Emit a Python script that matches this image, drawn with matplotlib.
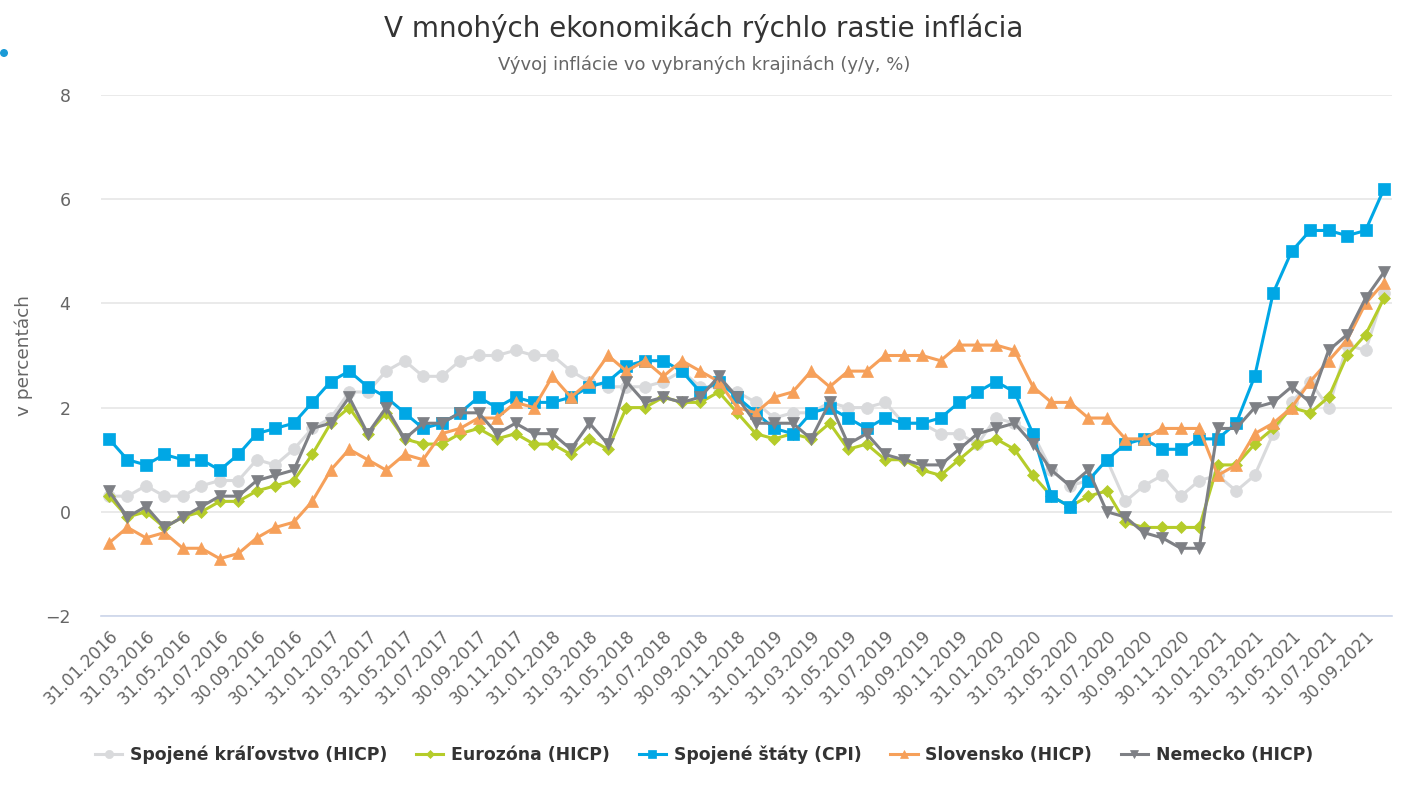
import matplotlib
matplotlib.use("Agg")
import matplotlib.pyplot as plt
import numpy as np
import pandas as pd
from matplotlib.patches import Ellipse

plt.rcParams['font.family'] = ['DejaVu Sans']

# ---- data ----
dates = pd.date_range('2016-01-31', periods=70, freq='ME')
date_labels = [d.strftime('%d.%m.%Y') for d in dates]

uk = [0.3, 0.3, 0.5, 0.3, 0.3, 0.5, 0.6, 0.6, 1.0, 0.9, 1.2, 1.6,
      1.8, 2.3, 2.3, 2.7, 2.9, 2.6, 2.6, 2.9, 3.0, 3.0, 3.1, 3.0,
      3.0, 2.7, 2.5, 2.4, 2.4, 2.4, 2.5, 2.7, 2.4, 2.4, 2.3, 2.1,
      1.8, 1.9, 1.9, 2.1, 2.0, 2.0, 2.1, 1.7, 1.7, 1.5, 1.5, 1.3,
      1.8, 1.7, 1.5, 0.8, 0.5, 0.6, 1.0, 0.2, 0.5, 0.7, 0.3, 0.6,
      0.7, 0.4, 0.7, 1.5, 2.1, 2.5, 2.0, 3.2, 3.1, 4.2]

eurozone = [0.3, -0.1, 0.0, -0.3, -0.1, 0.0, 0.2, 0.2, 0.4, 0.5, 0.6, 1.1,
            1.7, 2.0, 1.5, 1.9, 1.4, 1.3, 1.3, 1.5, 1.6, 1.4, 1.5, 1.3,
            1.3, 1.1, 1.4, 1.2, 2.0, 2.0, 2.2, 2.1, 2.1, 2.3, 1.9, 1.5,
            1.4, 1.5, 1.4, 1.7, 1.2, 1.3, 1.0, 1.0, 0.8, 0.7, 1.0, 1.3,
            1.4, 1.2, 0.7, 0.3, 0.1, 0.3, 0.4, -0.2, -0.3, -0.3, -0.3, -0.3,
            0.9, 0.9, 1.3, 1.6, 2.0, 1.9, 2.2, 3.0, 3.4, 4.1]

us = [1.4, 1.0, 0.9, 1.1, 1.0, 1.0, 0.8, 1.1, 1.5, 1.6, 1.7, 2.1,
      2.5, 2.7, 2.4, 2.2, 1.9, 1.6, 1.7, 1.9, 2.2, 2.0, 2.2, 2.1,
      2.1, 2.2, 2.4, 2.5, 2.8, 2.9, 2.9, 2.7, 2.3, 2.5, 2.2, 1.9,
      1.6, 1.5, 1.9, 2.0, 1.8, 1.6, 1.8, 1.7, 1.7, 1.8, 2.1, 2.3,
      2.5, 2.3, 1.5, 0.3, 0.1, 0.6, 1.0, 1.3, 1.4, 1.2, 1.2, 1.4,
      1.4, 1.7, 2.6, 4.2, 5.0, 5.4, 5.4, 5.3, 5.4, 6.2]

slovakia = [-0.6, -0.3, -0.5, -0.4, -0.7, -0.7, -0.9, -0.8, -0.5, -0.3, -0.2, 0.2,
            0.8, 1.2, 1.0, 0.8, 1.1, 1.0, 1.5, 1.6, 1.8, 1.8, 2.1, 2.0,
            2.6, 2.2, 2.5, 3.0, 2.7, 2.9, 2.6, 2.9, 2.7, 2.5, 2.0, 1.9,
            2.2, 2.3, 2.7, 2.4, 2.7, 2.7, 3.0, 3.0, 3.0, 2.9, 3.2, 3.2,
            3.2, 3.1, 2.4, 2.1, 2.1, 1.8, 1.8, 1.4, 1.4, 1.6, 1.6, 1.6,
            0.7, 0.9, 1.5, 1.7, 2.0, 2.5, 2.9, 3.3, 4.0, 4.4]

germany = [0.4, -0.1, 0.1, -0.3, -0.1, 0.1, 0.3, 0.3, 0.6, 0.7, 0.8, 1.6,
           1.7, 2.2, 1.5, 2.0, 1.4, 1.7, 1.7, 1.9, 1.9, 1.5, 1.7, 1.5,
           1.5, 1.2, 1.7, 1.3, 2.5, 2.1, 2.2, 2.1, 2.2, 2.6, 2.2, 1.7,
           1.7, 1.7, 1.4, 2.1, 1.3, 1.5, 1.1, 1.0, 0.9, 0.9, 1.2, 1.5,
           1.6, 1.7, 1.3, 0.8, 0.5, 0.8, 0.0, -0.1, -0.4, -0.5, -0.7, -0.7,
           1.6, 1.6, 2.0, 2.1, 2.4, 2.1, 3.1, 3.4, 4.1, 4.6]

series_names = ['Spojené kráľovstvo (HICP)', 'Eurozóna (HICP)', 'Spojené štáty (CPI)',
                'Slovensko (HICP)', 'Nemecko (HICP)']
series_values = [uk, eurozone, us, slovakia, germany]
series_colors = ['#d9dadc', '#b5cc2a', '#00a7e5', '#f6a05a', '#7e8085']
series_markers = ['o', 'D', 's', '^', 'v']
series_msize = [8.5, 6.5, 8.5, 9.0, 9.0]

yticks = [-2, 0, 2, 4, 6, 8]

# ---- figure ----
fig = plt.figure(figsize=(14.08, 8.0), dpi=100)
W, H = 1408, 800
ax = fig.add_axes([101 / W, (H - 616) / H, (1392 - 101) / W, (616 - 95) / H])

x = np.arange(len(date_labels))
for name, vals, col, mk, ms in zip(series_names, series_values, series_colors,
                                   series_markers, series_msize):
    ax.plot(x, vals, color=col, lw=2.2, marker=mk, markersize=ms,
            markerfacecolor=col, markeredgecolor=col, markeredgewidth=0.5,
            label=name, solid_joinstyle='round', clip_on=False)

ax.set_ylim(-2, 8)
ax.set_xlim(-0.43, len(x) - 1 + 0.43)
ax.set_yticks(yticks)
ax.set_yticklabels([('−' + str(abs(t))) if t < 0 else str(t) for t in yticks])
ax.set_xticks(x[::2])
ax.set_xticklabels(date_labels[::2], rotation=45, ha='right', va='top',
                   rotation_mode='anchor')
for lab in ax.get_xticklabels():
    lab.set_fontsize(12.2)
    lab.set_color('#666666')
for lab in ax.get_yticklabels():
    lab.set_fontsize(12.5)
    lab.set_color('#666666')
ax.tick_params(axis='x', length=0, pad=8)
ax.tick_params(axis='y', length=0, pad=22)

ax.grid(axis='y', color='#e6e6e6', lw=1.2)
ax.set_axisbelow(True)
for s in ['top', 'right', 'left']:
    ax.spines[s].set_visible(False)
ax.spines['bottom'].set_color('#ccd6eb')
ax.spines['bottom'].set_linewidth(1.2)

ax.set_ylabel('v percentách', fontsize=13.3, color='#666666')
ax.yaxis.set_label_coords((33 - 101) / (1392 - 101), 0.5)

fig.text(0.5, 1 - 28 / H, 'V mnohých ekonomikách rýchlo rastie inflácia',
         ha='center', va='center', fontsize=20, color='#333333')
fig.text(0.5, 1 - 65 / H, 'Vývoj inflácie vo vybraných krajinách (y/y, %)',
         ha='center', va='center', fontsize=13, color='#666666')

fig.patches.append(Ellipse((4 / W, 1 - 53 / H), 8 / W, 8 / H,
                           transform=fig.transFigure,
                           facecolor='#1a9ad6', edgecolor='none'))

leg = fig.legend(loc='center', bbox_to_anchor=(0.5, 1 - 755 / H), ncol=5,
                 frameon=False, prop={'weight': 'bold', 'size': 12.4},
                 handlelength=1.6, handletextpad=0.45, columnspacing=1.65,
                 markerscale=0.7)
for t in leg.get_texts():
    t.set_color('#333333')

fig.savefig('out.png', dpi=100)
